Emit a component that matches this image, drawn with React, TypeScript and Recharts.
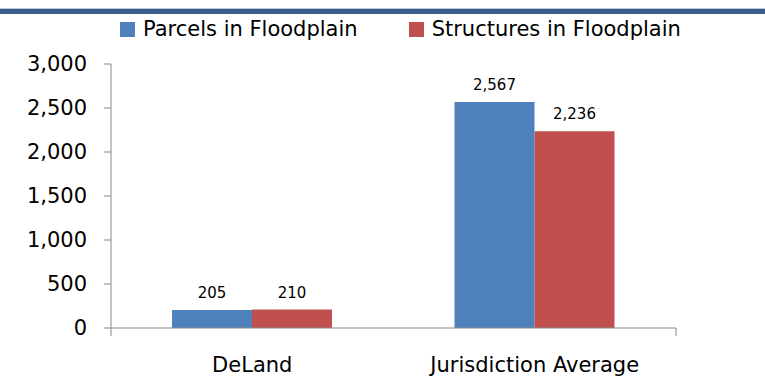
import { BarChart, Bar, XAxis, YAxis, Legend, LabelList } from 'recharts';

const categories = ['DeLand', 'Jurisdiction Average'];
const parcels = [205, 2567];
const structures = [210, 2236];
const yTicks = [0, 500, 1000, 1500, 2000, 2500, 3000];
const edgeTicks = [0, 1, 2];

const BLUE = '#4f81bd';
const RED = '#c0504d';
const FONT = '"DejaVu Sans", sans-serif';

const data = categories.map((name, i) => ({
    name,
    parcels: parcels[i],
    structures: structures[i],
}));

const fmt = (v: any) => Number(v).toLocaleString('en-US');

function LegendContent(props: any) {
    const items = props.payload || [];
    return (
        <div style={{ display: 'flex', alignItems: 'center', fontFamily: FONT, fontSize: 21, color: '#000' }}>
            {items.map((it: any, i: number) => (
                <div key={i} style={{ display: 'flex', alignItems: 'center', marginRight: 51 }}>
                    <span style={{ width: 15, height: 15, background: it.color, display: 'inline-block', marginRight: 8 }} />
                    <span style={{ lineHeight: '22px', whiteSpace: 'nowrap' }}>{it.value}</span>
                </div>
            ))}
        </div>
    );
}

export default function App() {
    return (
        <div style={{ position: 'absolute', left: 0, top: 0, width: 765, height: 379, background: '#fff' }}>
            <div style={{ position: 'absolute', left: 0, top: 8, width: 765, height: 1, background: '#b9c9dd' }} />
            <div style={{ position: 'absolute', left: 0, top: 9, width: 765, height: 5, background: '#385d8a' }} />
            <BarChart
                width={765}
                height={379}
                data={data}
                margin={{ top: 64, right: 89, bottom: 0, left: 0 }}
                barGap={0}
                style={{ fontFamily: FONT }}
            >
                <XAxis
                    xAxisId="b_cat"
                    dataKey="name"
                    axisLine={false}
                    tickLine={false}
                    height={50}
                    tickSize={0}
                    tickMargin={28}
                    tick={{ fill: '#000', fontSize: 21 }}
                />
                <XAxis
                    xAxisId="a_edge"
                    type="number"
                    domain={[0, 2]}
                    ticks={edgeTicks}
                    tickFormatter={() => ''}
                    height={1}
                    tickSize={8}
                    stroke="#888"
                    allowDataOverflow
                />
                <YAxis
                    width={111}
                    domain={[0, 3000]}
                    ticks={yTicks}
                    tickFormatter={fmt}
                    tickSize={7}
                    tickMargin={17}
                    stroke="#888"
                    tick={{ fill: '#000', fontSize: 21 }}
                />
                <Legend
                    verticalAlign="middle"
                    align="center"
                    layout="horizontal"
                    wrapperStyle={{ top: 18, left: 120, width: 'auto' }}
                    content={<LegendContent />}
                />
                <Bar xAxisId="b_cat" dataKey="parcels" name="Parcels in Floodplain" fill={BLUE} barSize={80} isAnimationActive={false}>
                    <LabelList dataKey="parcels" position="top" offset={12} formatter={fmt} fill="#000" fontSize={15} />
                </Bar>
                <Bar xAxisId="b_cat" dataKey="structures" name="Structures in Floodplain" fill={RED} barSize={80} isAnimationActive={false}>
                    <LabelList dataKey="structures" position="top" offset={12} formatter={fmt} fill="#000" fontSize={15} />
                </Bar>
            </BarChart>
        </div>
    );
}
